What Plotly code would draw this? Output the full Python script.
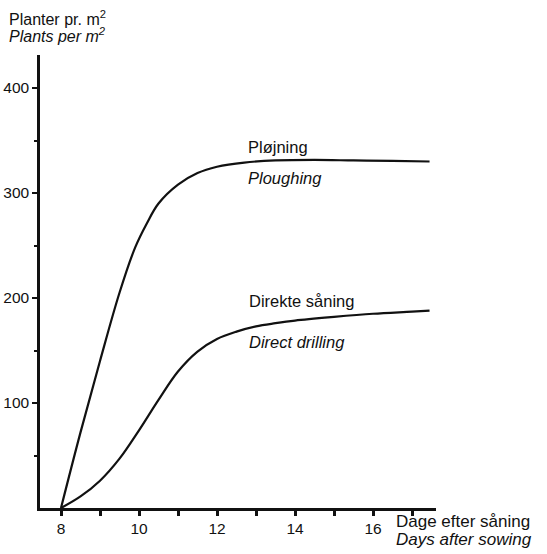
import plotly.graph_objects as go

# Data
days_plough = [8, 8.5, 9, 9.5, 9.9, 10.2, 10.5, 11, 11.5, 12, 12.7, 13.5, 14.5, 15.5, 16.5, 17.45]
plants_plough = [0, 72, 140, 205, 248, 271, 290, 308, 319, 325, 329, 331, 331.5, 331, 330.5, 330]

days_direct = [8, 8.5, 9, 9.5, 10, 10.5, 11, 11.5, 12, 12.5, 13, 13.5, 14, 15, 16, 17, 17.45]
plants_direct = [0, 11, 26, 47, 74, 103, 130, 149, 161, 168, 173, 176, 178.5, 182, 185, 187, 188]

x_major = [8, 10, 12, 14, 16]
x_minor = [9, 11, 13, 15, 17]
y_major = [100, 200, 300, 400]
y_minor = [50, 150, 250, 350]

W, H = 547, 554
SHIFT = 2
L, R, T, B = 42 - SHIFT, 438 - SHIFT, 55, 508  # plot area in pixels
X8 = 63 - SHIFT  # pixel of day 8
XU = 39          # pixels per day

def px(xp):
    return (xp - SHIFT - L) / (R - L)

def py(yp):
    return (B - yp) / (B - T)

FONT = "Liberation Sans, Arial, Helvetica, sans-serif"
INK = "#111111"

fig = go.Figure()
for xs, ys in [(days_plough, plants_plough), (days_direct, plants_direct)]:
    fig.add_trace(go.Scatter(x=xs, y=ys, mode="lines",
                             line=dict(color=INK, width=2.2, shape="spline", smoothing=1.0),
                             hoverinfo="skip", showlegend=False))

fig.update_layout(
    width=W, height=H,
    margin=dict(l=L, r=W - R, t=T, b=H - B),
    paper_bgcolor="white", plot_bgcolor="white",
    font=dict(family=FONT, size=15, color=INK),
    xaxis=dict(range=[8 - (X8 - L) / XU, 8 + (R - X8) / XU],
               tickvals=x_major, ticks="outside", ticklen=5, tickwidth=2.5, tickcolor=INK,
               minor=dict(tickvals=x_minor, ticks="outside", ticklen=5, tickwidth=2.5, tickcolor=INK),
               showline=True, linecolor=INK, linewidth=2.5,
               tickfont=dict(size=15.5),
               showgrid=False, zeroline=False, fixedrange=True, automargin=False),
    yaxis=dict(range=[0, (B - T) / 1.05],
               tickvals=y_major, ticks="outside", ticklen=5, tickwidth=2, tickcolor=INK,
               minor=dict(tickvals=y_minor, ticks="outside", ticklen=3, tickwidth=1.5, tickcolor=INK),
               showline=True, linecolor=INK, linewidth=2.5,
               tickfont=dict(size=15.5),
               showgrid=False, zeroline=False, fixedrange=True, automargin=False),
)

def label(text, xp, yp, size=16.5):
    fig.add_annotation(text=text, xref="paper", yref="paper", x=px(xp), y=py(yp),
                       xanchor="left", yanchor="middle", showarrow=False,
                       font=dict(family=FONT, size=size, color=INK))

label("Planter pr. m<sup>2</sup>", 9, 18, 16)
label("<i>Plants per m<sup>2</sup></i>", 9, 35, 16)
label("Dage efter såning", 396, 521, 17)
label("<i>Days after sowing</i>", 396, 539, 17)
label("Pløjning", 248, 147)
label("<i>Ploughing</i>", 248, 178)
label("Direkte såning", 249, 301)
label("<i>Direct drilling</i>", 249, 342)

fig.write_html("out.html")
